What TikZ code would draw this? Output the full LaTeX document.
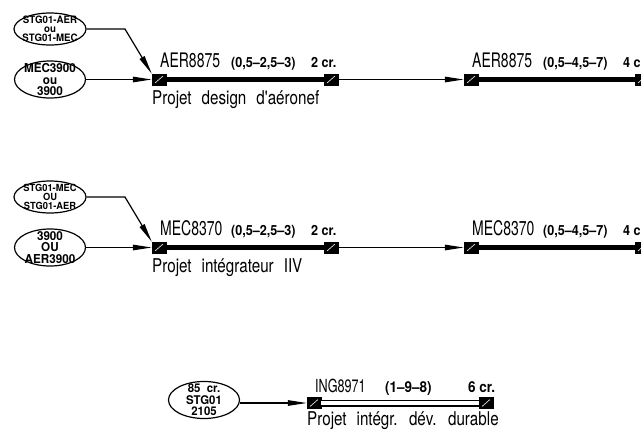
\documentclass[tikz,border=0pt]{standalone}
\usepackage{fontspec}
\usetikzlibrary{shapes.geometric,arrows.meta}
\newfontfamily\cadN[FakeStretch=0.7]{TeX Gyre Heros}
\newfontfamily\cadT[FakeStretch=0.8]{TeX Gyre Heros}
\newfontfamily\cadW[FakeStretch=0.9]{TeX Gyre Heros}
\newfontfamily\cadE[FakeStretch=0.95]{TeX Gyre Heros}
\newcommand\cadsp{\spaceskip 10pt\relax}
\begin{document}
\begin{tikzpicture}[x=1pt,y=-1pt,
  ell/.style={draw, line width=1.2pt, ellipse, inner xsep=-14pt, inner ysep=-12pt,
    minimum width=72pt, minimum height=32pt, align=center,
    font=\cadE\bfseries\fontsize{10.2}{9}\selectfont},
  ellbig/.style={ell, minimum height=37pt, minimum width=71pt,
    font=\cadE\bfseries\fontsize{12.3}{11.8}\selectfont},
  sq/.style={fill=black, draw=black, line width=0.4pt, minimum width=14pt, minimum height=11pt,
    inner sep=0pt,
    path picture={\draw[white, line width=0.6pt]
      ([xshift=3pt,yshift=2pt]path picture bounding box.south west) --
      ([xshift=-3pt,yshift=-2pt]path picture bounding box.north east);}},
  arr/.style={line width=1.2pt, -{Triangle[length=19pt,width=5.5pt]}},
  barA/.style={line width=5.5pt},
  barB/.style={line width=1.5pt, double=white, double distance=4pt},
  nm/.style={anchor=base west, inner sep=0pt, font=\cadN\fontsize{20}{20}\selectfont},
  pr/.style={anchor=base west, inner sep=0pt, font=\cadW\bfseries\fontsize{14}{14}\selectfont},
  tt/.style={anchor=base west, inner sep=0pt, font={\cadT\fontsize{19}{19}\selectfont\cadsp}}
]
\useasboundingbox (0,0) rectangle (641,434);

% ---------- Row 1 ----------
\node[ell] (e1) at (50,29) {STG01-AER\\ou\\STG01-MEC};
\node[ellbig] (e2) at (50,79.5) {MEC3900\\ou\\3900};
\node[sq] (s1) at (159,79.5) {};
\node[sq] (s2) at (331,79.5) {};
\node[sq] (s3) at (471,79.5) {};
\node[sq] (s4) at (642,79.5) {};
\coordinate (b1) at (125,29);
\draw[arr] (e1.east) -- (b1) -- (s1.north west);
\draw[arr] (e2.east) -- (s1.west);
\draw[barA] (s1.east) -- (s2.west);
\draw[arr] (s2.east) -- (s3.west);
\draw[barA] (s3.east) -- (s4.west);
\node[nm] (n1) at (160,67.5) {AER8875};
\node[pr] (p1) at (231,67.5) {(0,5–2,5–3)};
\node[pr] (c1) at (311,67.5) {2 cr.};
\node[tt] (t1) at (152,104) {Projet design d'aéronef};
\node[nm] (n2) at (472,67.5) {AER8875};
\node[pr] (p2) at (543,67.5) {(0,5–4,5–7)};
\node[pr] (c2) at (623,67.5) {4 cr.};

% ---------- Row 2 ----------
\node[ell, font=\cadE\bfseries\fontsize{9.8}{9}\selectfont] (e3) at (50,197) {STG01-MEC\\OU\\STG01-AER};
\node[ellbig, font=\cadE\bfseries\fontsize{12.3}{11.8}\selectfont] (e4) at (50,247.5) {3900\\OU\\AER3900};
\node[sq] (s5) at (159,247.5) {};
\node[sq] (s6) at (331,247.5) {};
\node[sq] (s7) at (471,247.5) {};
\node[sq] (s8) at (642,247.5) {};
\coordinate (b2) at (125,197);
\draw[arr] (e3.east) -- (b2) -- (s5.north west);
\draw[arr] (e4.east) -- (s5.west);
\draw[barA] (s5.east) -- (s6.west);
\draw[arr] (s6.east) -- (s7.west);
\draw[barA] (s7.east) -- (s8.west);
\node[nm] (n3) at (160,235.5) {MEC8370};
\node[pr] (p3) at (231,235.5) {(0,5–2,5–3)};
\node[pr] (c3) at (311,235.5) {2 cr.};
\node[tt] (t3) at (152,272) {Projet intégrateur IIV};
\node[nm] (n4) at (472,235.5) {MEC8370};
\node[pr] (p4) at (543,235.5) {(0,5–4,5–7)};
\node[pr] (c4) at (623,235.5) {4 cr.};

% ---------- Row 3 ----------
\node[ellbig, font=\cadE\bfseries\fontsize{12}{11.5}\selectfont] (e5) at (204,400) {85~~cr.\\STG01\\2105};
\node[sq] (s9) at (314,403) {};
\node[sq] (s10) at (486,403) {};
\draw[arr] (e5.east |- s9.west) -- (s9.west);
\draw[barB] (s9.east) -- (s10.west);
\node[nm, font=\cadN\fontsize{18}{18}\selectfont] (n5) at (315,392) {ING8971};
\node[pr, font=\cadW\bfseries\fontsize{15}{15}\selectfont] (p5) at (385,392) {(1–9–8)};
\node[pr, font=\cadW\bfseries\fontsize{15}{15}\selectfont] (c5) at (468,392) {6 cr.};
\node[tt] (t5) at (307,425) {Projet intégr. dév. durable};
\end{tikzpicture}
\end{document}
